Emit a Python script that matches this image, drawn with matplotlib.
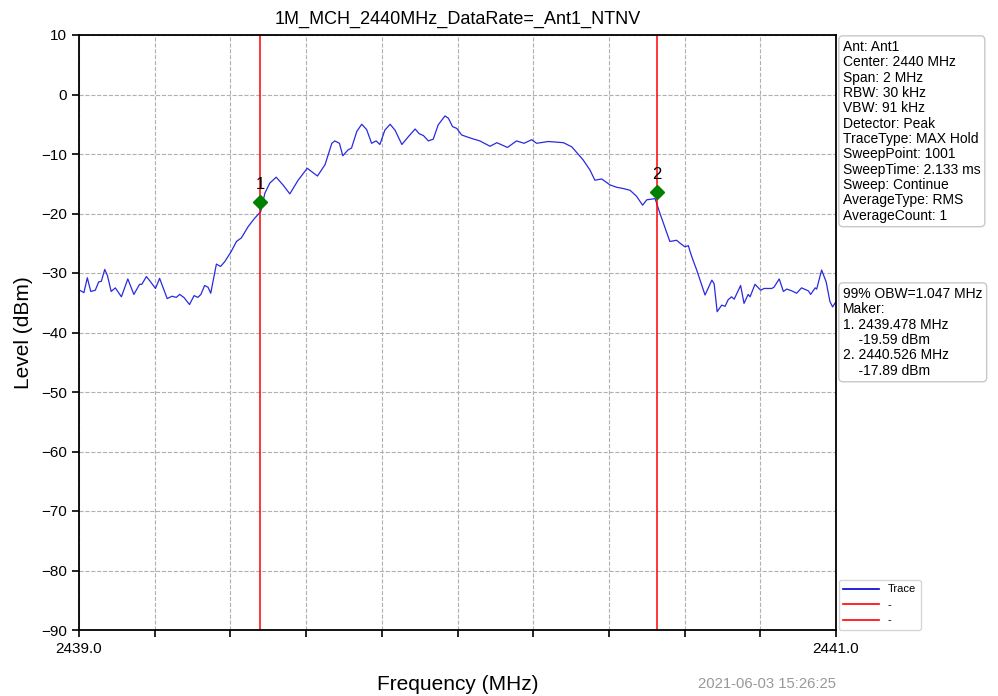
import matplotlib
matplotlib.use("Agg")
import matplotlib.pyplot as plt
from matplotlib.lines import Line2D

plt.rcParams['font.family'] = ['Liberation Sans', 'DejaVu Sans']
plt.rcParams['axes.unicode_minus'] = True

title = "1M_MCH_2440MHz_DataRate=_Ant1_NTNV"
xlabel = "Frequency (MHz)"
ylabel = "Level (dBm)"
timestamp = "2021-06-03 15:26:25"

freq = [2439.002, 2439.013, 2439.022, 2439.031, 2439.043, 2439.052, 2439.059, 2439.068,
        2439.075, 2439.085, 2439.096, 2439.112, 2439.129, 2439.145, 2439.160, 2439.166,
        2439.178, 2439.187, 2439.202, 2439.213, 2439.233, 2439.246, 2439.257, 2439.266,
        2439.277, 2439.292, 2439.304, 2439.314, 2439.322, 2439.332, 2439.341, 2439.348,
        2439.363, 2439.374, 2439.385, 2439.394, 2439.402, 2439.416, 2439.429, 2439.447,
        2439.464, 2439.480, 2439.491, 2439.504, 2439.521, 2439.539, 2439.557, 2439.579,
        2439.603, 2439.630, 2439.650, 2439.668, 2439.676, 2439.688, 2439.697, 2439.711,
        2439.720, 2439.734, 2439.747, 2439.760, 2439.773, 2439.785, 2439.795, 2439.808,
        2439.822, 2439.835, 2439.853, 2439.870, 2439.888, 2439.899, 2439.910, 2439.923,
        2439.936, 2439.949, 2439.967, 2439.976, 2439.987, 2439.998, 2440.011, 2440.024,
        2440.038, 2440.059, 2440.086, 2440.104, 2440.132, 2440.156, 2440.176, 2440.196,
        2440.209, 2440.240, 2440.280, 2440.302, 2440.332, 2440.350, 2440.363, 2440.381,
        2440.403, 2440.421, 2440.438, 2440.456, 2440.473, 2440.489, 2440.500, 2440.522,
        2440.535, 2440.561, 2440.579, 2440.588, 2440.601, 2440.610, 2440.614, 2440.622,
        2440.632, 2440.654, 2440.672, 2440.678, 2440.686, 2440.698, 2440.707, 2440.715,
        2440.724, 2440.731, 2440.748, 2440.757, 2440.768, 2440.773, 2440.786, 2440.801,
        2440.810, 2440.830, 2440.836, 2440.850, 2440.861, 2440.870, 2440.883, 2440.896,
        2440.909, 2440.927, 2440.933, 2440.945, 2440.949, 2440.962, 2440.974, 2440.984,
        2440.991, 2441.000]

level = [-32.9, -33.3, -30.8, -33.1, -32.9, -31.5, -31.4, -29.4,
         -30.4, -33.1, -32.5, -34.0, -31.0, -33.6, -31.9, -31.9,
         -30.6, -31.3, -32.6, -30.9, -34.3, -33.9, -34.1, -33.6,
         -34.1, -35.3, -33.8, -34.1, -33.6, -32.1, -32.4, -33.4,
         -28.5, -28.9, -28.1, -27.2, -26.4, -24.7, -24.1, -22.2,
         -20.8, -19.7, -16.6, -14.9, -13.9, -15.2, -16.7, -14.4,
         -12.4, -13.7, -11.8, -8.2, -7.8, -8.2, -10.3, -9.3,
         -9.0, -6.2, -5.0, -5.9, -8.2, -7.8, -8.4, -6.0,
         -5.0, -6.0, -8.4, -7.1, -5.8, -6.6, -6.9, -7.8,
         -7.5, -5.1, -3.6, -4.0, -5.4, -5.7, -6.8, -7.1,
         -7.4, -7.8, -8.7, -8.1, -8.9, -7.8, -8.2, -7.6,
         -8.2, -7.9, -8.1, -8.8, -11.0, -12.7, -14.4, -14.2,
         -15.2, -15.6, -15.8, -16.1, -17.1, -18.6, -17.7, -17.5,
         -20.0, -24.7, -24.5, -25.0, -25.6, -25.4, -26.3, -27.8,
         -29.5, -33.7, -31.2, -31.8, -36.5, -35.4, -35.6, -34.5,
         -34.0, -34.4, -32.1, -35.1, -33.6, -34.0, -31.9, -32.9,
         -32.6, -32.6, -32.4, -31.0, -33.1, -32.7, -33.0, -33.4,
         -32.5, -33.0, -33.6, -32.5, -32.7, -29.5, -31.5, -34.8,
         -35.7, -34.8]

marker_freq = [2439.478, 2440.526]
marker_level = [-18.1, -16.4]
marker_names = ["1", "2"]

info_lines = ["Ant: Ant1", "Center: 2440 MHz", "Span: 2 MHz", "RBW: 30 kHz",
              "VBW: 91 kHz", "Detector: Peak", "TraceType: MAX Hold",
              "SweepPoint: 1001", "SweepTime: 2.133 ms", "Sweep: Continue",
              "AverageType: RMS", "AverageCount: 1"]
obw_lines = ["99% OBW=1.047 MHz", "Maker:", "1. 2439.478 MHz", "    -19.59 dBm",
             "2. 2440.526 MHz", "    -17.89 dBm"]
legend_labels = ["Trace", "-", "-"]

xticks = [2439.0, 2439.2, 2439.4, 2439.6, 2439.8, 2440.0, 2440.2, 2440.4, 2440.6, 2440.8, 2441.0]
xticklabels = ["2439.0", "", "", "", "", "", "", "", "", "", "2441.0"]
yticks = [10, 0, -10, -20, -30, -40, -50, -60, -70, -80, -90]

fig = plt.figure(figsize=(9.98, 6.96), dpi=100)
ax = fig.add_axes([79/998, 1-630/696, (836-79)/998, (630-35)/696])

ax.plot(freq, level, color='#2a2ae0', lw=0.9, label=legend_labels[0])
for i, (mf, ml, mn) in enumerate(zip(marker_freq, marker_level, marker_names)):
    ax.axvline(mf, color='red', lw=1.1, label=legend_labels[1 + i])
    ax.plot([mf], [ml], marker='D', color='green', markersize=7, linestyle='none')
    ax.annotate(mn, (mf, ml), xytext=(0, 7), textcoords='offset points',
                ha='center', va='bottom', fontsize=12)

ax.set_xlim(2439.0, 2441.0)
ax.set_ylim(-90, 10)
ax.set_xticks(xticks)
ax.set_xticklabels(xticklabels, fontsize=11)
ax.set_yticks(yticks)
ax.set_yticklabels([str(t).replace('-', '\u2212') for t in yticks], fontsize=11)
ax.tick_params(direction='out', length=5, width=1.2)
ax.grid(True, linestyle='--', color='#b0b0b0', lw=0.8)
for s in ax.spines.values():
    s.set_linewidth(1.3)

ax.set_title(title, fontsize=13, pad=8)
ax.set_xlabel(xlabel, fontsize=15, labelpad=14)
ax.set_ylabel(ylabel, fontsize=15, labelpad=6)

handles = [Line2D([], [], color='#0000cc', lw=1.2),
           Line2D([], [], color='red', lw=1.2),
           Line2D([], [], color='red', lw=1.2)]
leg = ax.legend(handles, legend_labels, loc='lower left', bbox_to_anchor=(1.004, 0.0),
                fontsize=8, frameon=True, borderaxespad=0.0, handlelength=3.2)
leg.get_frame().set_edgecolor('#cccccc')

box = dict(boxstyle='round,pad=0.3', facecolor='white', edgecolor='#c8c8c8')
fig.text(843/998, 1-40/696, "\n".join(info_lines), fontsize=10, va='top', ha='left',
         bbox=box, linespacing=1.12)
fig.text(843/998, 1-287/696, "\n".join(obw_lines), fontsize=10, va='top', ha='left',
         bbox=box, linespacing=1.12)
fig.text(836/998, 1-684/696, timestamp, fontsize=10.7, color='#999999', ha='right', va='center')

fig.savefig("out.png", dpi=100)
